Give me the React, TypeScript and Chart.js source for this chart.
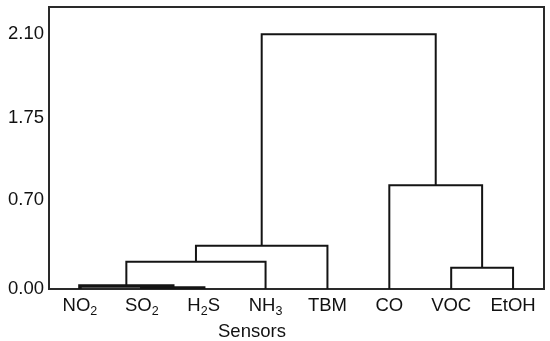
import React, { useEffect, useRef } from "react";
import { Chart, registerables } from "chart.js";
Chart.register(...registerables);

const sensors = ["NO₂", "SO₂", "H₂S", "NH₃", "TBM", "CO", "VOC", "EtOH"];
const tickValues = [0, 1.05, 2.01, 3];
const tickLabels = ["0.00", "0.70", "1.75", "2.10"];
// dendrogram merges (cluster ids: leaves 0..7, new clusters 8..)
const mergeLeft = [1, 0, 9, 10, 6, 5, 11];
const mergeRight = [2, 8, 3, 4, 7, 12, 13];
const mergeHeight = [0.012, 0.035, 0.32, 0.51, 0.25, 1.22, 3.0];
const axisTitle = "Sensors";

const FONT = "'Liberation Sans', Arial, sans-serif";
const SUB = "₀₁₂₃₄₅₆₇₈₉";

function segments(label: string) {
  const segs: { t: string; sub: boolean }[] = [];
  for (const ch of label) {
    const si = SUB.indexOf(ch);
    const sub = si >= 0;
    const t = sub ? String(si) : ch;
    const last = segs[segs.length - 1];
    if (last && last.sub === sub) last.t += t;
    else segs.push({ t, sub });
  }
  return segs;
}

export default function App() {
  const ref = useRef<HTMLCanvasElement>(null);
  useEffect(() => {
    const pos: number[] = sensors.map((_, i) => i);
    const hgt: number[] = sensors.map(() => 0);
    const datasets = mergeLeft.map((a, k) => {
      const b = mergeRight[k];
      const h = mergeHeight[k];
      const data = [
        { x: pos[a], y: hgt[a] },
        { x: pos[a], y: h },
        { x: pos[b], y: h },
        { x: pos[b], y: hgt[b] },
      ];
      pos.push((pos[a] + pos[b]) / 2);
      hgt.push(h);
      return {
        data,
        showLine: true,
        borderColor: "#141414",
        borderWidth: h < 0.1 ? 3.5 : 2,
        pointRadius: 0,
        fill: false,
        tension: 0,
      };
    });

    const framePlugin = {
      id: "frame",
      beforeDatasetsDraw(chart: any) {
        const { ctx, chartArea } = chart;
        ctx.save();
        ctx.strokeStyle = "#2a2a2a";
        ctx.lineWidth = 2;
        ctx.strokeRect(chartArea.left, chartArea.top, chartArea.right - chartArea.left, chartArea.bottom - chartArea.top);
        ctx.restore();
      },
      afterDraw(chart: any) {
        const { ctx, chartArea } = chart;
        const xs = chart.scales.x;
        ctx.save();
        ctx.fillStyle = "#111";
        ctx.textBaseline = "alphabetic";
        ctx.textAlign = "left";
        const base = chartArea.bottom + 22;
        sensors.forEach((lab, i) => {
          const segs = segments(lab);
          let w = 0;
          segs.forEach((s) => {
            ctx.font = `${s.sub ? 12.5 : 18.5}px ${FONT}`;
            w += ctx.measureText(s.t).width;
          });
          let x = xs.getPixelForValue(i) - w / 2;
          segs.forEach((s) => {
            ctx.font = `${s.sub ? 12.5 : 18.5}px ${FONT}`;
            ctx.fillText(s.t, x, s.sub ? base + 3.5 : base);
            x += ctx.measureText(s.t).width;
          });
        });
        ctx.font = `18.5px ${FONT}`;
        ctx.textAlign = "center";
        ctx.fillText(axisTitle, xs.getPixelForValue(2.78), chartArea.bottom + 48);
        ctx.restore();
      },
    };

    const chart = new Chart(ref.current!, {
      type: "scatter",
      data: { datasets: datasets as any },
      options: {
        animation: false,
        responsive: false,
        events: [],
        layout: { padding: { top: 7, right: 6, left: 0, bottom: 0 } },
        plugins: { legend: { display: false }, tooltip: { enabled: false } },
        scales: {
          x: {
            type: "linear",
            min: -0.5,
            max: 7.5,
            grid: { display: false, drawTicks: false },
            border: { display: false },
            afterBuildTicks: (s: any) => {
              s.ticks = sensors.map((_, i) => ({ value: i }));
            },
            afterFit: (s: any) => {
              s.height = 52;
              s.paddingLeft = 0;
              s.paddingRight = 0;
            },
            ticks: { display: false },
          },
          y: {
            type: "linear",
            min: 0,
            max: 3.32,
            grid: { display: false, drawTicks: false },
            border: { display: false },
            afterBuildTicks: (s: any) => {
              s.ticks = tickValues.map((v) => ({ value: v }));
            },
            afterFit: (s: any) => {
              s.width = 49;
              s.paddingTop = 0;
              s.paddingBottom = 0;
            },
            ticks: {
              padding: 5,
              color: "#111",
              font: { family: FONT, size: 18.5 },
              callback: (v: any) => tickLabels[tickValues.indexOf(v)] ?? "",
            },
          },
        },
      } as any,
      plugins: [framePlugin],
    });
    return () => chart.destroy();
  }, []);

  return (
    <div style={{ position: "fixed", left: 0, top: 0, width: 550, height: 341, background: "#fff" }}>
      <canvas ref={ref} width={550} height={341} style={{ display: "block" }} />
    </div>
  );
}
